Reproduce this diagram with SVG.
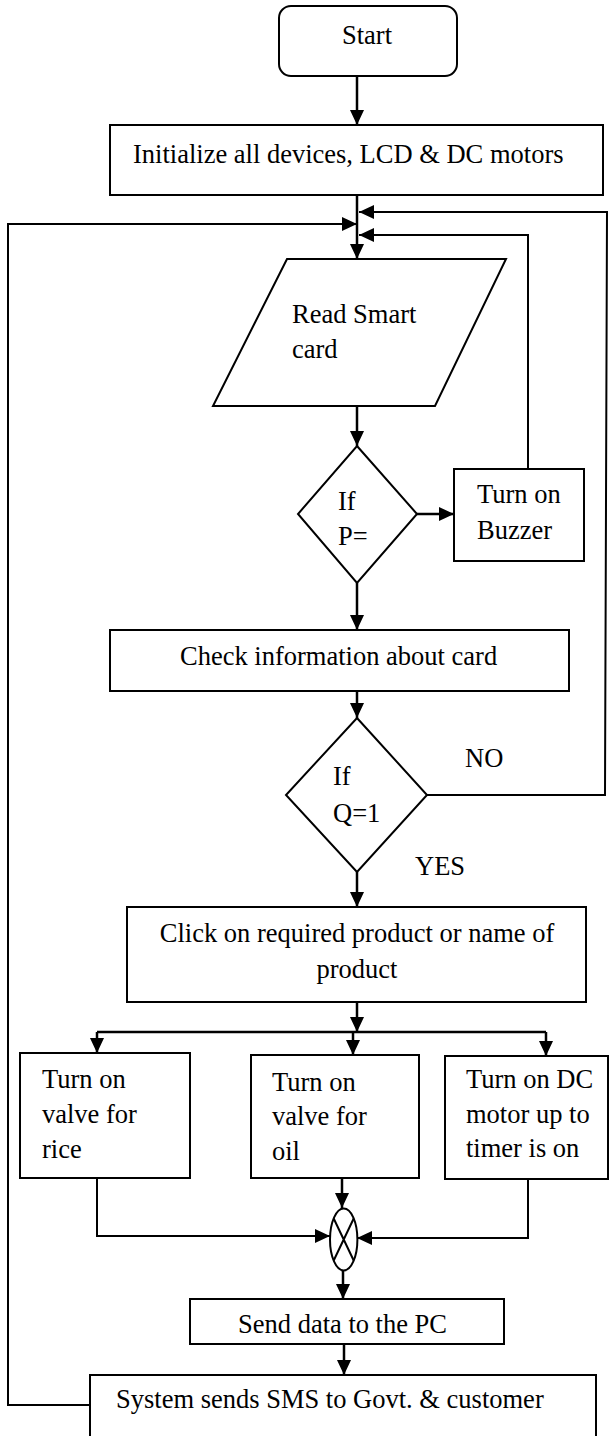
<svg xmlns="http://www.w3.org/2000/svg" width="609" height="1436" viewBox="0 0 609 1436">
<style>
.n{fill:#fff;stroke:#000;stroke-width:2}
.t{font-family:"Liberation Serif","Times New Roman",serif;font-size:26.5px;fill:#000}
.c{fill:none;stroke:#000;stroke-width:2.5}
.l{fill:none;stroke:#000;stroke-width:2}
</style>
<defs>
<marker id="ah" viewBox="0 0 15 14" refX="15" refY="7" markerWidth="15" markerHeight="14" orient="auto" markerUnits="userSpaceOnUse">
<path d="M0,0 L15,7 L0,14 z" fill="#000"/>
</marker>
</defs>
<rect width="609" height="1436" fill="#fff"/>
<g id="connectors">
<path class="c" d="M357,76 V125" marker-end="url(#ah)"/>
<path class="c" d="M357,196 V259" marker-end="url(#ah)"/>
<path class="l" d="M427,795 H605 L607,212 H359" marker-end="url(#ah)"/>
<path class="l" d="M528,469 V235 H359" marker-end="url(#ah)"/>
<path class="l" d="M90,1405 H8 V224 H357" marker-end="url(#ah)"/>
<path class="c" d="M357,406 V446" marker-end="url(#ah)"/>
<path class="c" d="M417,514 H454" marker-end="url(#ah)"/>
<path class="c" d="M357,583 V630" marker-end="url(#ah)"/>
<path class="c" d="M357,691 V718" marker-end="url(#ah)"/>
<path class="c" d="M357,872 V907" marker-end="url(#ah)"/>
<path class="c" d="M357,1002 V1032" marker-end="url(#ah)"/>
<path class="c" d="M97,1032 H546"/>
<path class="c" d="M97,1032 V1053" marker-end="url(#ah)"/>
<path class="c" d="M353,1032 V1055" marker-end="url(#ah)"/>
<path class="c" d="M546,1032 V1056" marker-end="url(#ah)"/>
<path class="l" d="M97,1178 V1236 H330" marker-end="url(#ah)"/>
<path class="c" d="M342,1178 V1208" marker-end="url(#ah)"/>
<path class="l" d="M528,1179 V1238 H357" marker-end="url(#ah)"/>
<path class="c" d="M343,1271 V1299" marker-end="url(#ah)"/>
<path class="c" d="M344,1344 V1375" marker-end="url(#ah)"/>
</g>
<g id="start">
<rect class="n" x="279" y="6" width="178" height="70" rx="12"/>
<text class="t" x="342" y="44">Start</text>
</g>
<g id="init">
<rect class="n" x="110" y="125" width="493" height="70"/>
<text class="t" x="133" y="163">Initialize all devices, LCD &amp; DC motors</text>
</g>
<g id="read">
<polygon class="n" points="287,259 506,259 435,406 213,406"/>
<text class="t" x="292" y="323">Read Smart</text>
<text class="t" x="292" y="358">card</text>
</g>
<g id="decP">
<polygon class="n" points="357,446 417,514 357,583 298,514"/>
<text class="t" x="338" y="510">If</text>
<text class="t" x="338" y="545">P=</text>
</g>
<g id="buzzer">
<rect class="n" x="454" y="469" width="130" height="92"/>
<text class="t" x="477" y="503">Turn on</text>
<text class="t" x="477" y="539">Buzzer</text>
</g>
<g id="check">
<rect class="n" x="110" y="630" width="459" height="61"/>
<text class="t" x="180" y="665">Check information about card</text>
</g>
<g id="decQ">
<polygon class="n" points="357,718 427,795 357,872 286,795"/>
<text class="t" x="333" y="785">If</text>
<text class="t" x="333" y="822">Q=1</text>
<text class="t" x="465" y="767">NO</text>
<text class="t" x="415" y="875">YES</text>
</g>
<g id="click">
<rect class="n" x="127" y="907" width="459" height="95"/>
<text class="t" x="357" y="942" text-anchor="middle">Click on required product or name of</text>
<text class="t" x="357" y="978" text-anchor="middle">product</text>
</g>
<g id="rice">
<rect class="n" x="20" y="1053" width="170" height="125"/>
<text class="t" x="42" y="1088">Turn on</text>
<text class="t" x="42" y="1123">valve for</text>
<text class="t" x="42" y="1158">rice</text>
</g>
<g id="oil">
<rect class="n" x="251" y="1055" width="168" height="123"/>
<text class="t" x="272" y="1091">Turn on</text>
<text class="t" x="272" y="1125">valve for</text>
<text class="t" x="272" y="1160">oil</text>
</g>
<g id="motor">
<rect class="n" x="445" y="1056" width="163" height="123"/>
<text class="t" x="466" y="1088">Turn on DC</text>
<text class="t" x="466" y="1123">motor up to</text>
<text class="t" x="466" y="1157">timer is on</text>
</g>
<g id="junction">
<ellipse class="n" cx="343.7" cy="1239.5" rx="13.7" ry="31"/>
<path class="l" d="M333.7,1218.5 L353.7,1260.5 M353.7,1218.5 L333.7,1260.5"/>
</g>
<g id="send">
<rect class="n" x="190" y="1299" width="314" height="45"/>
<text class="t" x="238" y="1333">Send data to the PC</text>
</g>
<g id="sms">
<rect class="n" x="90" y="1375" width="506" height="70"/>
<text class="t" x="116" y="1408">System sends SMS to Govt. &amp; customer</text>
</g>
</svg>
